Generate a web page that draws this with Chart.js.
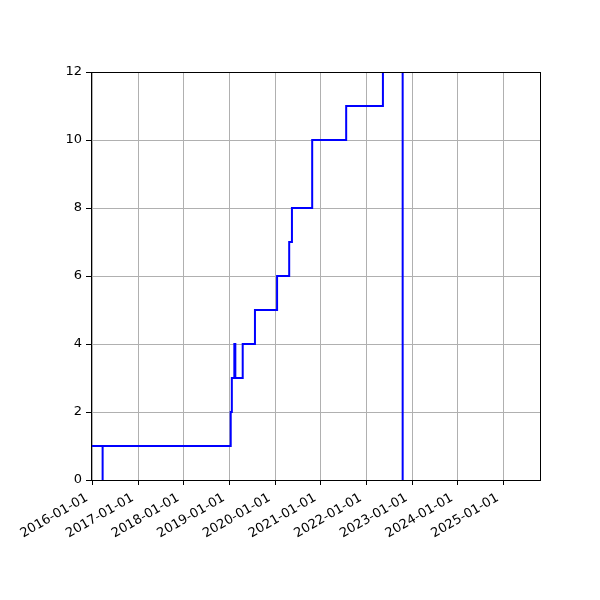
<!DOCTYPE html>
<html>
<head>
<meta charset="utf-8">
<script src="https://cdn.jsdelivr.net/npm/chart.js@4.4.0/dist/chart.umd.min.js"></script>
<style>
  html, body { margin: 0; padding: 0; background: #ffffff; }
  #wrap { width: 600px; height: 600px; }
</style>
</head>
<body>
<div id="wrap"><canvas id="c" width="600" height="600"></canvas></div>
<script>
// ---- data ----
const dates = ['2015-12-20','2016-03-22','2016-03-22','2019-01-11','2019-01-20','2019-02-09','2019-02-17',
               '2019-04-17','2019-07-24','2020-01-17','2020-04-23','2020-05-15','2020-10-24','2021-07-23',
               '2022-05-13','2022-10-18','2022-10-18','2025-10-21'];
const values = [1, 0, 1, 2, 3, 4, 3, 4, 5, 6, 7, 8, 10, 11, 13, 0, 13, 13];
const xTickLabels = ['2016-01-01','2017-01-01','2018-01-01','2019-01-01','2020-01-01',
                     '2021-01-01','2022-01-01','2023-01-01','2024-01-01','2025-01-01'];
const xRange = ['2015-12-20','2025-10-21'];
const yTicks = [0, 2, 4, 6, 8, 10, 12];

const DAY = 86400000;
const toDay = s => Date.parse(s + 'T00:00:00Z') / DAY;
const dayToLabel = d => new Date(Math.round(d) * DAY).toISOString().slice(0, 10);

const points = dates.map((d, i) => ({ x: toDay(d), y: values[i] }));

const frame = {
  id: 'frame',
  afterDatasetsDraw(chart) {
    const a = chart.chartArea, ctx = chart.ctx;
    ctx.save();
    ctx.strokeStyle = '#000';
    ctx.lineWidth = 1;
    ctx.strokeRect(Math.round(a.left) + 0.5, Math.round(a.top) + 0.5,
                   Math.round(a.right - a.left), Math.round(a.bottom - a.top));
    ctx.restore();
  }
};

new Chart(document.getElementById('c'), {
  type: 'line',
  data: {
    datasets: [{
      data: points,
      borderColor: '#0000ff',
      borderWidth: 2,
      pointRadius: 0,
      fill: false,
      stepped: true,
      tension: 0
    }]
  },
  options: {
    responsive: false,
    animation: false,
    devicePixelRatio: 1,
    layout: { padding: { top: 72, right: 60, left: 0, bottom: 0 } },
    plugins: { legend: { display: false }, tooltip: { enabled: false } },
    scales: {
      x: {
        type: 'linear',
        min: toDay(xRange[0]),
        max: toDay(xRange[1]),
        afterBuildTicks(scale) {
          scale.ticks = xTickLabels.map(l => ({ value: toDay(l) }));
        },
        afterFit(scale) { scale.height = 120; },
        grid: { color: '#b0b0b0', lineWidth: 1, tickColor: '#000', tickLength: 5, drawTicks: true },
        border: { color: '#000', width: 1 },
        ticks: {
          autoSkip: false,
          maxRotation: 30,
          minRotation: 30,
          padding: 2,
          color: '#000',
          font: { family: 'DejaVu Sans', size: 13 },
          callback: v => dayToLabel(v) + '\u2002'
        }
      },
      y: {
        min: 0,
        max: 12,
        afterBuildTicks(scale) {
          scale.ticks = yTicks.map(v => ({ value: v }));
        },
        afterFit(scale) { scale.width = 91; },
        grid: { color: '#b0b0b0', lineWidth: 1, tickColor: '#000', tickLength: 5 },
        border: { color: '#000', width: 1 },
        ticks: {
          padding: 4,
          color: '#000',
          font: { family: 'DejaVu Sans', size: 13 }
        }
      }
    }
  },
  plugins: [frame]
});
</script>
</body>
</html>
